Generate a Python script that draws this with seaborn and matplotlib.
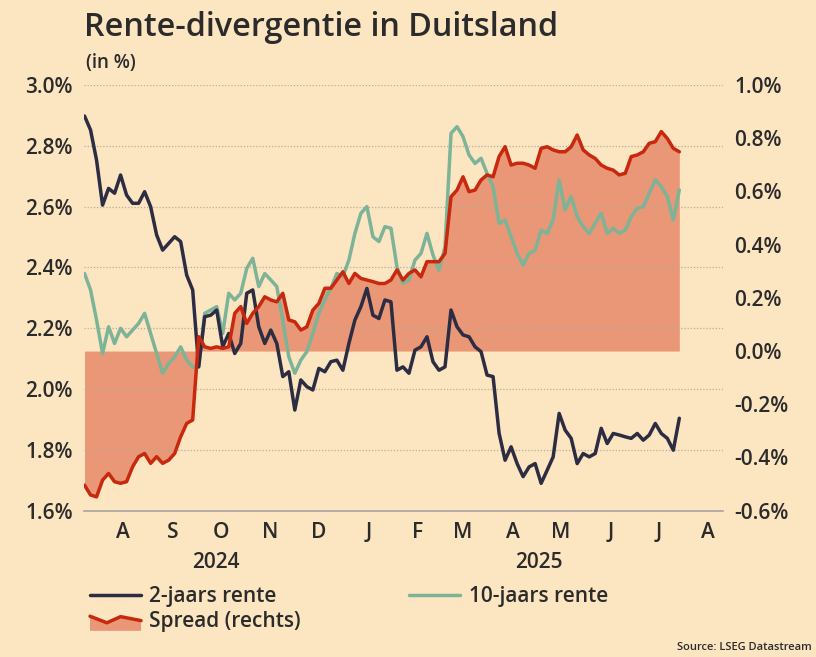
import numpy as np
import pandas as pd
import matplotlib
matplotlib.use("Agg")
import matplotlib.pyplot as plt
from matplotlib.lines import Line2D
from matplotlib.patches import Polygon
from matplotlib.legend_handler import HandlerBase
import seaborn as sns

# ---------------- data ----------------
start_date = "2024-07-22"
end_date = "2025-07-28"

rente_2j = [2.898, 2.852, 2.753, 2.605, 2.660, 2.644, 2.704, 2.638, 2.611, 2.611,
            2.649, 2.600, 2.507, 2.457, 2.479, 2.501, 2.485, 2.375, 2.326, 2.073,
            2.238, 2.243, 2.260, 2.139, 2.183, 2.117, 2.150, 2.315, 2.326, 2.205,
            2.150, 2.194, 2.150, 2.041, 2.057, 1.931, 2.030, 2.008, 1.997, 2.068,
            2.057, 2.090, 2.095, 2.062, 2.150, 2.227, 2.271, 2.331, 2.243, 2.232,
            2.293, 2.287, 2.062, 2.073, 2.052, 2.128, 2.139, 2.172, 2.090, 2.062,
            2.073, 2.260, 2.205, 2.178, 2.172, 2.139, 2.123, 2.046, 2.041, 1.855,
            1.766, 1.810, 1.755, 1.712, 1.744, 1.755, 1.690, 1.733, 1.777, 1.920,
            1.865, 1.838, 1.755, 1.788, 1.777, 1.788, 1.871, 1.821, 1.854, 1.849,
            1.843, 1.838, 1.854, 1.832, 1.849, 1.887, 1.854, 1.838, 1.799, 1.904]

rente_10j = [2.380, 2.326, 2.227, 2.117, 2.205, 2.150, 2.200, 2.172, 2.194, 2.216,
             2.249, 2.183, 2.117, 2.052, 2.084, 2.106, 2.139, 2.095, 2.073, 2.073,
             2.249, 2.260, 2.271, 2.183, 2.315, 2.293, 2.315, 2.397, 2.430, 2.337,
             2.380, 2.359, 2.337, 2.227, 2.106, 2.052, 2.095, 2.123, 2.183, 2.249,
             2.293, 2.331, 2.380, 2.370, 2.424, 2.512, 2.578, 2.600, 2.501, 2.485,
             2.534, 2.529, 2.402, 2.348, 2.359, 2.424, 2.446, 2.512, 2.441, 2.391,
             2.468, 2.841, 2.863, 2.830, 2.770, 2.742, 2.759, 2.709, 2.666, 2.545,
             2.556, 2.501, 2.446, 2.408, 2.446, 2.457, 2.523, 2.512, 2.556, 2.688,
             2.589, 2.633, 2.567, 2.534, 2.512, 2.545, 2.578, 2.512, 2.529, 2.512,
             2.523, 2.567, 2.594, 2.600, 2.644, 2.688, 2.666, 2.633, 2.556, 2.655]

spread = [-0.504, -0.541, -0.548, -0.485, -0.460, -0.491, -0.497, -0.491, -0.435, -0.397,
          -0.385, -0.422, -0.397, -0.422, -0.410, -0.385, -0.322, -0.272, -0.259, 0.054,
          0.016, 0.010, 0.016, 0.010, 0.016, 0.142, 0.167, 0.104, 0.142, 0.167,
          0.204, 0.192, 0.185, 0.217, 0.117, 0.110, 0.079, 0.091, 0.154, 0.179,
          0.236, 0.236, 0.267, 0.298, 0.254, 0.292, 0.273, 0.267, 0.261, 0.254,
          0.254, 0.267, 0.305, 0.267, 0.292, 0.305, 0.279, 0.336, 0.336, 0.336,
          0.367, 0.580, 0.605, 0.655, 0.599, 0.605, 0.643, 0.662, 0.655, 0.731,
          0.768, 0.699, 0.706, 0.706, 0.699, 0.687, 0.762, 0.768, 0.756, 0.749,
          0.749, 0.768, 0.812, 0.756, 0.737, 0.724, 0.699, 0.687, 0.680, 0.662,
          0.668, 0.731, 0.737, 0.749, 0.781, 0.787, 0.825, 0.799, 0.762, 0.749]

month_labels = ["A", "S", "O", "N", "D", "J", "F", "M", "A", "M", "J", "J", "A"]
month_ticks = pd.date_range("2024-08-01", periods=13, freq="MS") + pd.Timedelta(days=14)
left_ticks = [1.6, 1.8, 2.0, 2.2, 2.4, 2.6, 2.8, 3.0]
right_ticks = [-0.6, -0.4, -0.2, 0.0, 0.2, 0.4, 0.6, 0.8, 1.0]
year_labels = ["2024", "2025"]

dates = pd.date_range(start_date, end_date, periods=len(rente_2j))
df = pd.DataFrame({"datum": dates, "r2": rente_2j, "r10": rente_10j, "spread": spread})

# ---------------- style ----------------
BG = "#FCE5C1"
DARK = "#2C2C42"
GREEN = "#7DB397"
RED = "#C8280E"
FILL = "#E99776"
TXT = "#2B2B2B"
GRID = "#B9AC98"
FONT = ["Open Sans", "DejaVu Sans"]
FS = 15
WT = "semibold"
LW = 2.5

sns.set_theme(style="white")
plt.rcParams["font.family"] = FONT
plt.rcParams["text.color"] = TXT
plt.rcParams["xtick.color"] = TXT
plt.rcParams["ytick.color"] = TXT

fig = plt.figure(figsize=(8.16, 6.57), dpi=100, facecolor=BG)
W, H = 816, 657
rect = [84 / W, 1 - 510.7 / H, (723 - 84) / W, (510.7 - 85) / H]

# spread fill axes (bottom layer, right scale)
ax_f = fig.add_axes(rect)
ax_f.set_facecolor(BG)
ax_f.fill_between(df["datum"], 0, df["spread"], color=FILL, lw=0)
ax_f.set_ylim(-0.6, 1.0)

# left-scale axes on top (lines + grid)
ax_l = ax_f.twinx()
ax_l.patch.set_visible(False)
ax_l.set_ylim(1.6, 3.0)
sns.lineplot(data=df, x="datum", y="r10", ax=ax_l, color=GREEN, lw=LW, zorder=3)
sns.lineplot(data=df, x="datum", y="r2", ax=ax_l, color=DARK, lw=LW, zorder=4)

# spread line on top
ax_r = ax_l.twinx()
ax_r.patch.set_visible(False)
ax_r.set_ylim(-0.6, 1.0)
sns.lineplot(data=df, x="datum", y="spread", ax=ax_r, color=RED, lw=LW, zorder=5)

xlim = (pd.Timestamp("2024-07-21 16:00"), pd.Timestamp("2025-08-24 06:00"))
for a in (ax_f, ax_l, ax_r):
    a.set_xlim(*xlim)
    a.set_xlabel("")
    a.set_ylabel("")
    for s in a.spines.values():
        s.set_visible(False)

# left ticks + grid
ax_l.yaxis.tick_left()
ax_l.set_yticks(left_ticks)
ax_l.set_yticklabels([f"{v:.1f}%" for v in left_ticks], fontsize=FS, fontweight=WT)
ax_l.tick_params(axis="y", length=0, pad=8)
ax_l.grid(axis="y", color=GRID, linestyle=(0, (1, 1.5)), lw=0.9)
ax_l.grid(axis="x", visible=False)
ax_l.spines["bottom"].set_visible(True)
ax_l.spines["bottom"].set_color("#A8A49C")
ax_l.spines["bottom"].set_linewidth(1.2)

# right ticks
ax_f.yaxis.tick_right()
ax_f.set_yticks(right_ticks)
ax_f.set_yticklabels([f"{v:.1f}%" for v in right_ticks], fontsize=FS, fontweight=WT)
ax_f.tick_params(axis="y", length=0, pad=8)
ax_f.grid(False)
ax_r.set_yticks([])
ax_r.grid(False)

# x ticks (shared x axis, shown by the bottom axes)
ax_f.set_xticks(month_ticks)
ax_f.set_xticklabels(month_labels, fontsize=FS, fontweight=WT)
ax_f.tick_params(axis="x", length=0, pad=8)

# year labels
fig.text(216 / W, 1 - 562 / H, year_labels[0], ha="center", va="center",
         fontsize=FS, fontweight=WT)
fig.text(539 / W, 1 - 562 / H, year_labels[1], ha="center", va="center",
         fontsize=FS, fontweight=WT)

# titles
fig.text(84 / W, 1 - 36 / H, "Rente-divergentie in Duitsland", ha="left", va="baseline",
         fontsize=23.3, fontweight=WT)
fig.text(86 / W, 1 - 68 / H, "(in %)", ha="left", va="baseline", fontsize=13.5, fontweight=WT)
fig.text(812 / W, 1 - 648 / H, "Source: LSEG Datastream", ha="right", va="center",
         fontsize=8, fontweight=WT)


class SpreadHandler(HandlerBase):
    def create_artists(self, legend, orig_handle, xdescent, ydescent, width, height,
                       fontsize, trans):
        fx = np.array([0.0, 0.33, 0.6, 1.0])
        fy = np.array([0.75, 0.3, 0.72, 0.45])
        xs = fx * width - xdescent
        ys = fy * height - ydescent
        pts = list(zip(xs, ys)) + [(xs[-1], -ydescent - 0.25 * height), (xs[0], -ydescent - 0.25 * height)]
        poly = Polygon(pts, closed=True, fc=FILL, ec="none", transform=trans)
        line = Line2D(xs, ys, color=RED, lw=LW, transform=trans)
        return [poly, line]


h_dark = Line2D([], [], color=DARK, lw=LW)
h_green = Line2D([], [], color=GREEN, lw=LW)
h_spread = Polygon([[0, 0]], closed=True)
leg = fig.legend([h_dark, h_spread, h_green],
                 ["2-jaars rente", "Spread (rechts)", "10-jaars rente"],
                 handler_map={Polygon: SpreadHandler()},
                 ncol=2, loc="upper left", bbox_to_anchor=(90 / W, 1 - 586 / H),
                 frameon=False, prop={"weight": WT, "size": FS},
                 handlelength=2.45, handletextpad=0.4, columnspacing=5.2,
                 labelspacing=0.2, borderpad=0, borderaxespad=0)

fig.savefig("out.png", dpi=100, facecolor=BG)
